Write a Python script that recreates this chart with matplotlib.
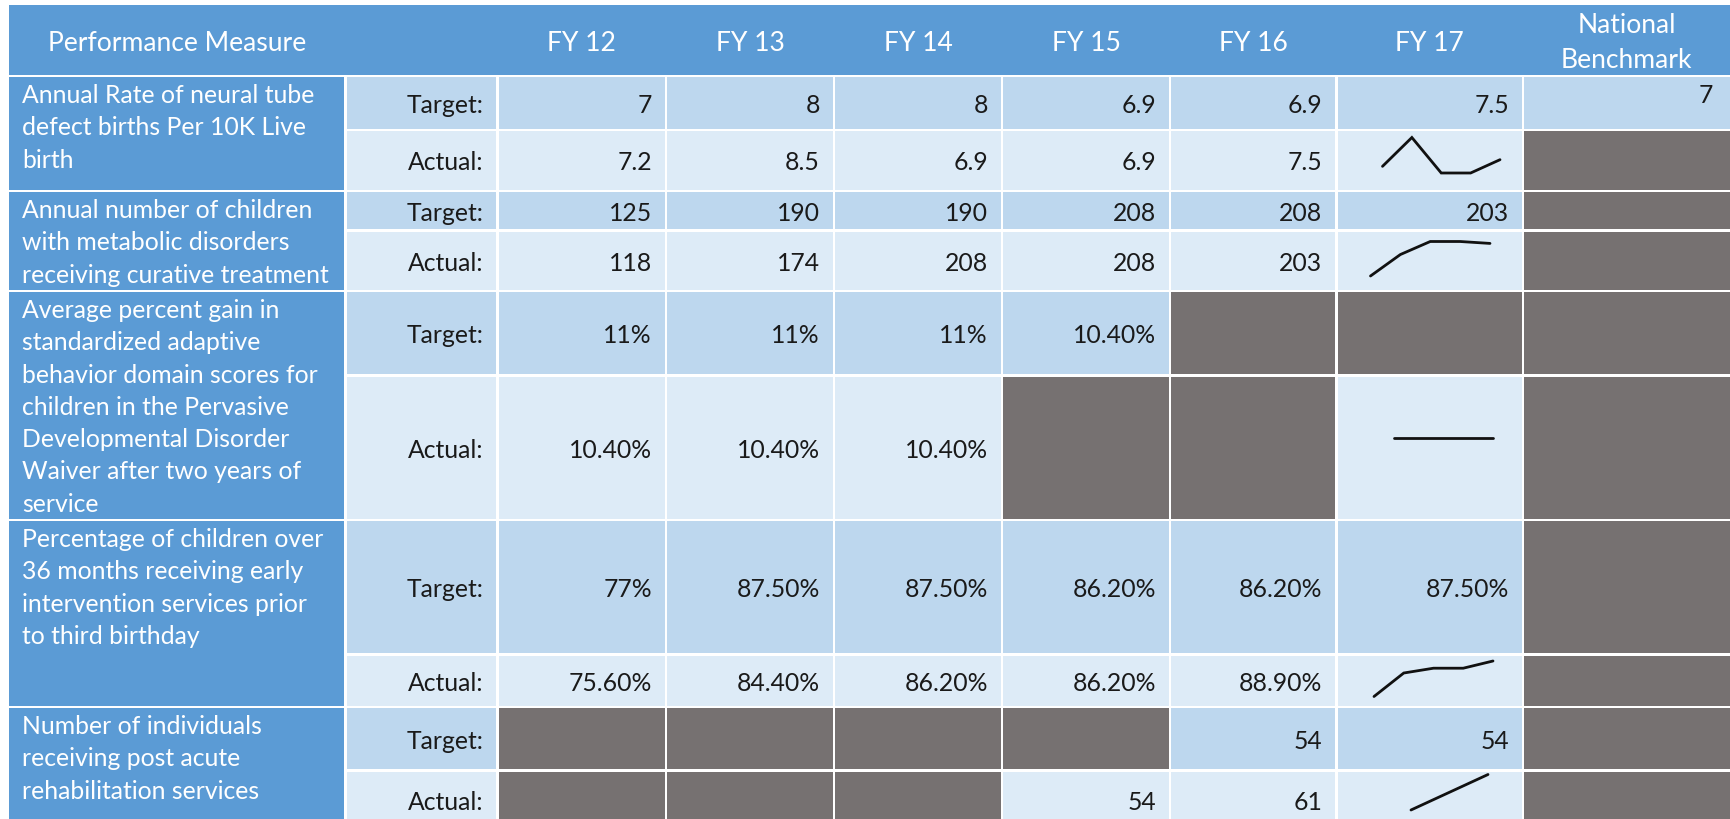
import matplotlib
matplotlib.use("Agg")
import matplotlib.pyplot as plt
from matplotlib.patches import Rectangle

# ---------------- data ----------------
measures = [
    "Annual Rate of neural tube\ndefect births Per 10K Live\nbirth",
    "Annual number of children\nwith metabolic disorders\nreceiving curative treatment",
    "Average percent gain in\nstandardized adaptive\nbehavior domain scores for\nchildren in the Pervasive\nDevelopmental Disorder\nWaiver after two years of\nservice",
    "Percentage of children over\n36 months receiving early\nintervention services prior\nto third birthday",
    "Number of individuals\nreceiving post acute\nrehabilitation services",
]
header_measure = "Performance Measure"
fiscal_years = ["FY 12", "FY 13", "FY 14", "FY 15", "FY 16", "FY 17"]
header_benchmark = "National\nBenchmark"
row_labels = ["Target:", "Actual:"]

# None = grey (not applicable) cell
targets = [
    ["7", "8", "8", "6.9", "6.9", "7.5"],
    ["125", "190", "190", "208", "208", "203"],
    ["11%", "11%", "11%", "10.40%", None, None],
    ["77%", "87.50%", "87.50%", "86.20%", "86.20%", "87.50%"],
    [None, None, None, None, "54", "54"],
]
actuals = [
    ["7.2", "8.5", "6.9", "6.9", "7.5"],
    ["118", "174", "208", "208", "203"],
    ["10.40%", "10.40%", "10.40%", None, None],
    ["75.60%", "84.40%", "86.20%", "86.20%", "88.90%"],
    [None, None, None, "54", "61"],
]
benchmarks = ["7", None, None, None, None]

# ---------------- style / layout ----------------
W, H = 1730, 820
HEADER_BLUE = "#5B9BD5"
TARGET_BLUE = "#BDD7EE"
ACTUAL_BLUE = "#DDEBF7"
GREY = "#767171"
TEXT = "#1a1a1a"
FONT = "Lato"
BODY_W = "normal"

COL_EDGES = [9, 345.5, 497.5, 666, 834, 1002, 1170, 1336.5, 1523, 1745]
ROW_EDGES = [5.5, 77, 131, 192, 231.5, 292, 376.5, 521, 655.5, 708, 771.5, 830]
# sparkline drawing boxes (x0, x1, ytop, ybottom) in pixels
SPARK_BOXES = [(1382.5, 1500, 138.5, 174), (1370.5, 1490, 242.5, 277),
               (1393.5, 1493, 421, 457), (1374, 1493, 662, 697.5),
               (1411, 1488, 775.5, 811)]
G = 1.2          # half white gap
PAD = 14         # right padding
BODY_PT = 17.8
HEAD_PT = 19.1
CAP = 0.7165     # Lato cap-height ratio
px = lambda pt: pt * 100 / 72

fig = plt.figure(figsize=(W / 100, H / 100), dpi=100)
fig.patch.set_facecolor("white")
ax = fig.add_axes([0, 0, 1, 1])
ax.set_xlim(0, W)
ax.set_ylim(H, 0)
ax.axis("off")


def cell(x0, x1, y0, y1, color, left=False, top=False):
    gx0 = 0 if left else G
    gy0 = 0 if top else G
    ax.add_patch(Rectangle((x0 + gx0, y0 + gy0), (x1 - x0) - gx0 - G,
                           (y1 - y0) - gy0 - G, facecolor=color,
                           edgecolor="none", zorder=1))


def cell_text(x1, y0, y1, s, color=TEXT):
    base = (y0 + y1) / 2 + CAP * px(BODY_PT) / 2
    ax.text(x1 - PAD, base, s, ha="right", va="baseline", fontsize=BODY_PT,
            family=FONT, fontweight=BODY_W, color=color, zorder=3)


# header
cell(COL_EDGES[0], COL_EDGES[-1], ROW_EDGES[0], ROW_EDGES[1], HEADER_BLUE,
     left=True, top=True)
hb = 50.7
ax.text((COL_EDGES[0] + COL_EDGES[1]) / 2, hb, header_measure, ha="center",
        va="baseline", fontsize=HEAD_PT, family=FONT, color="white", zorder=3)
for j, fy in enumerate(fiscal_years):
    cx = (COL_EDGES[2 + j] + COL_EDGES[3 + j]) / 2
    ax.text(cx, hb, fy, ha="center", va="baseline", fontsize=HEAD_PT,
            family=FONT, color="white", zorder=3)
nb_cx = (COL_EDGES[8] + 1730) / 2
for k, line in enumerate(header_benchmark.split("\n")):
    ax.text(nb_cx, 33 + 35 * k, line, ha="center", va="baseline",
            fontsize=HEAD_PT, family=FONT, color="white", zorder=3)

# body
for i, name in enumerate(measures):
    rt0, rt1 = ROW_EDGES[1 + 2 * i], ROW_EDGES[2 + 2 * i]
    ra0, ra1 = ROW_EDGES[2 + 2 * i], ROW_EDGES[3 + 2 * i]
    # measure name cell (merged)
    cell(COL_EDGES[0], COL_EDGES[1], rt0, ra1, HEADER_BLUE, left=True)
    for k, line in enumerate(name.split("\n")):
        ax.text(22, rt0 + 26 + 32.3 * k, line, ha="left", va="baseline",
                fontsize=BODY_PT, family=FONT, fontweight=BODY_W,
                color="white", zorder=3)
    # label cells
    cell(COL_EDGES[1], COL_EDGES[2], rt0, rt1, TARGET_BLUE)
    cell_text(COL_EDGES[2], rt0, rt1, row_labels[0])
    cell(COL_EDGES[1], COL_EDGES[2], ra0, ra1, ACTUAL_BLUE)
    cell_text(COL_EDGES[2], ra0, ra1, row_labels[1])
    # target values
    for j, v in enumerate(targets[i]):
        x0, x1 = COL_EDGES[2 + j], COL_EDGES[3 + j]
        cell(x0, x1, rt0, rt1, TARGET_BLUE if v is not None else GREY)
        if v is not None:
            cell_text(x1, rt0, rt1, v)
    # actual values
    for j, v in enumerate(actuals[i]):
        x0, x1 = COL_EDGES[2 + j], COL_EDGES[3 + j]
        cell(x0, x1, ra0, ra1, ACTUAL_BLUE if v is not None else GREY)
        if v is not None:
            cell_text(x1, ra0, ra1, v)
    # FY17 actual -> sparkline cell
    cell(COL_EDGES[7], COL_EDGES[8], ra0, ra1, ACTUAL_BLUE)
    vals = [float(v.rstrip("%")) for v in actuals[i] if v is not None]
    sx0, sx1, sy0, sy1 = SPARK_BOXES[i]
    sax = fig.add_axes([sx0 / W, 1 - sy1 / H, (sx1 - sx0) / W, (sy1 - sy0) / H])
    sax.plot(range(len(vals)), vals, color="#111111", lw=2.0,
             solid_capstyle="round", solid_joinstyle="miter", clip_on=False)
    sax.set_xlim(0, len(vals) - 1)
    lo, hi = min(vals), max(vals)
    if hi == lo:
        lo, hi = lo - 1, hi + 1
    sax.set_ylim(lo, hi)
    sax.axis("off")
    # benchmark
    bx0, bx1 = COL_EDGES[8], COL_EDGES[9]
    b = benchmarks[i]
    cell(bx0, bx1, rt0, rt1, TARGET_BLUE if b is not None else GREY)
    cell(bx0, bx1, ra0, ra1, GREY)
    if b is not None:
        ax.text(1713, rt0 + 26, b, ha="right", va="baseline", fontsize=BODY_PT,
                family=FONT, fontweight=BODY_W, color=TEXT, zorder=3)

fig.savefig("out.png", dpi=100, facecolor="white")
